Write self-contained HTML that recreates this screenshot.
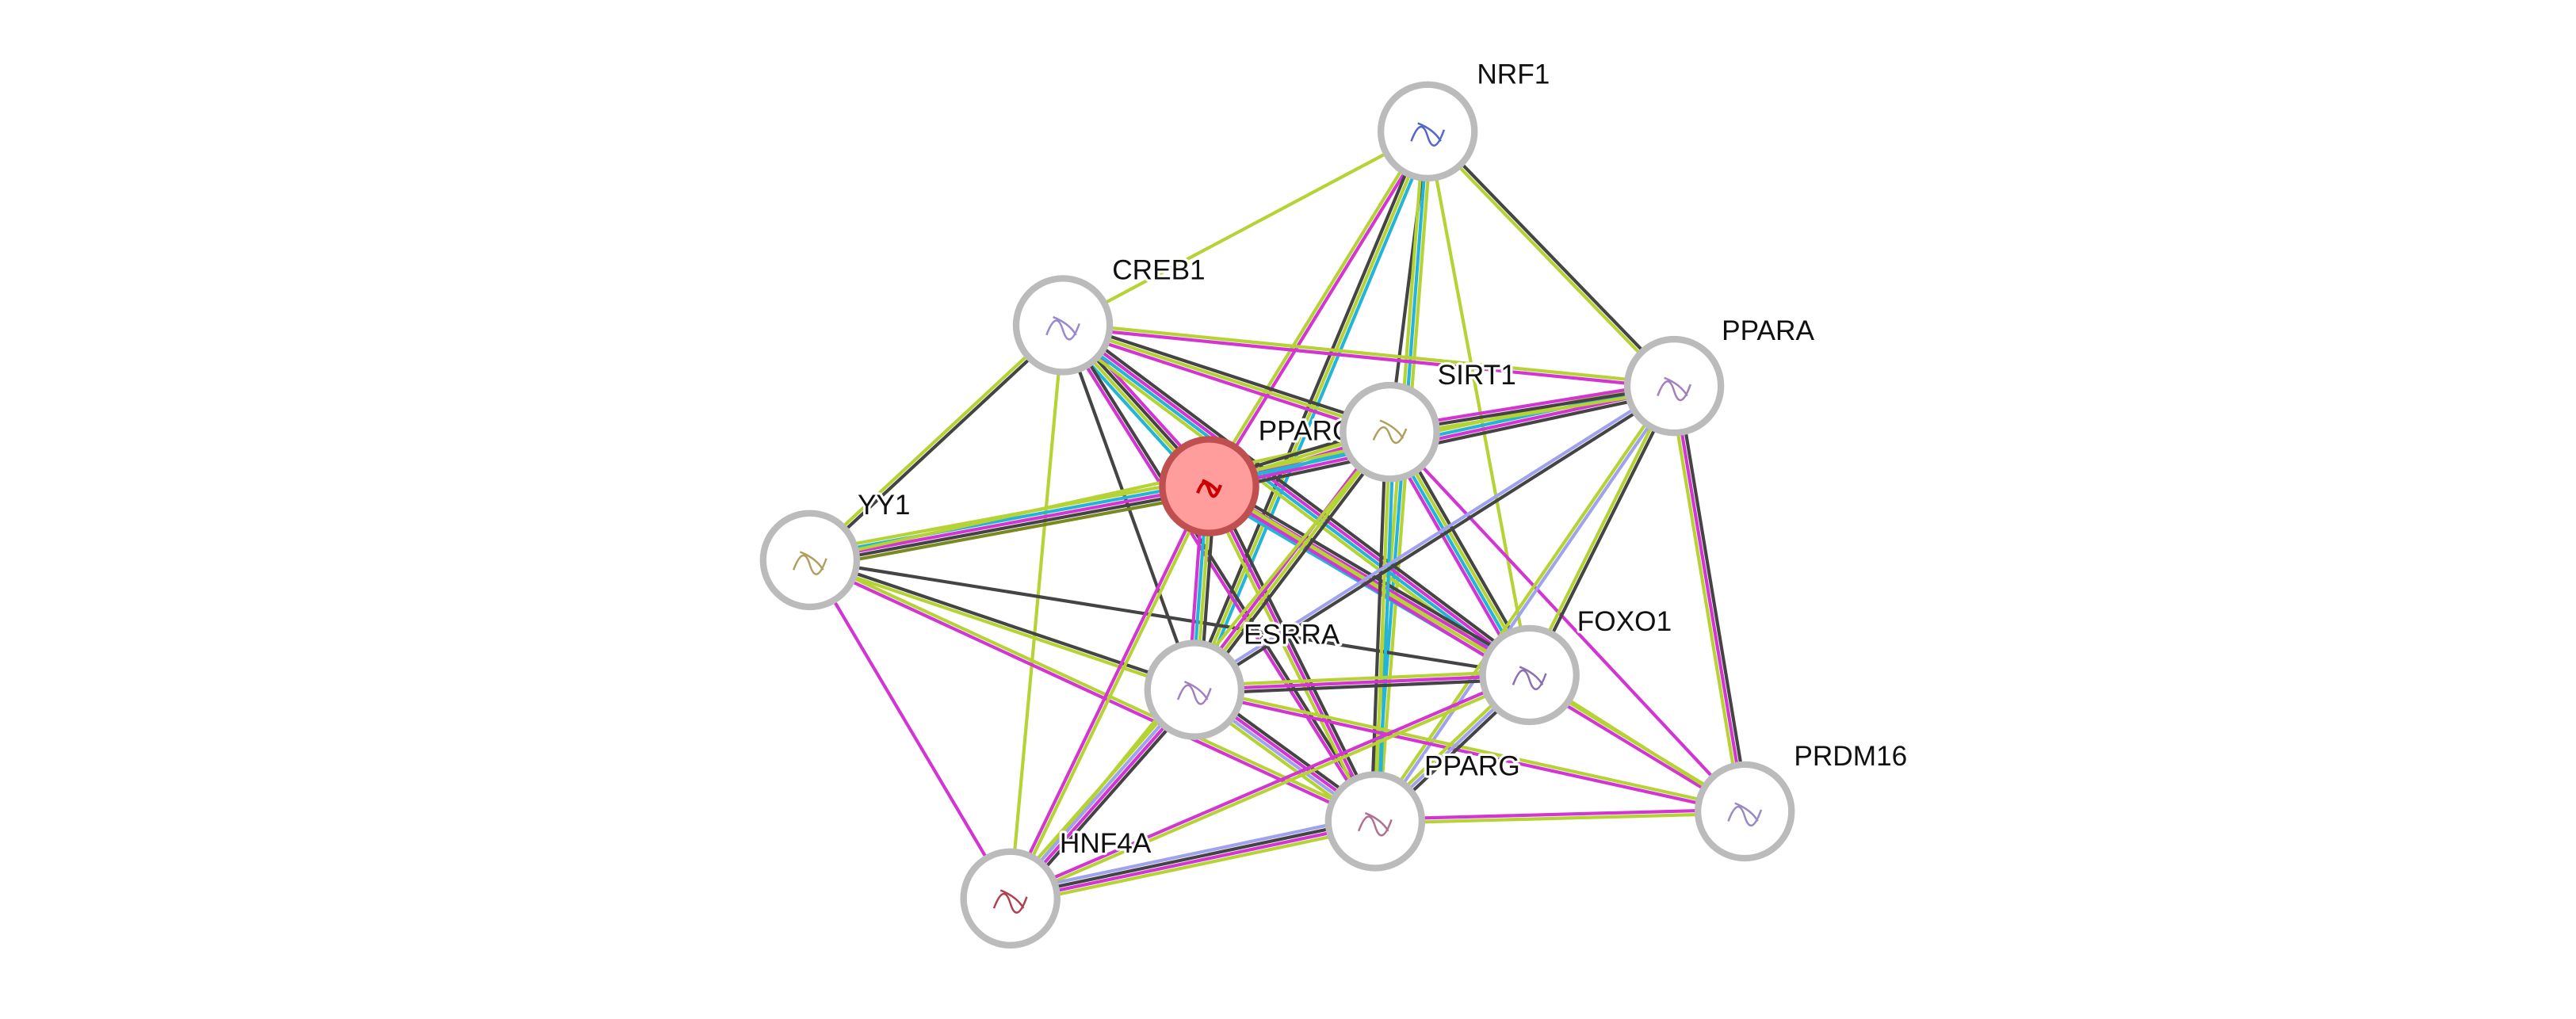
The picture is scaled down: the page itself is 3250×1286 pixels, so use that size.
<!DOCTYPE html>
<html><head><meta charset="utf-8"><style>
html,body{margin:0;padding:0;background:#fff;width:3250px;height:1286px;overflow:hidden}
svg{display:block}
text{font-family:"Liberation Sans",sans-serif;font-size:17px;fill:#111;stroke:#fff;stroke-width:3px;paint-order:stroke;stroke-linejoin:round}
</style></head><body>
<svg id="s" width="3250" height="1286" viewBox="0 0 1568 620.4" preserveAspectRatio="none" xmlns="http://www.w3.org/2000/svg"></svg>
<script>
var N={
NRF1:[869,80,899,45],CREB1:[647,198,677,164],PGC:[736,296,766,262],SIRT1:[846,263,875,228],
PPARA:[1019,235,1048,201],YY1:[493,341,522,307],ESRRA:[727,420,757,386],FOXO1:[931,411,960,378],
PRDM16:[1062,494,1092,460],PPARG:[837,500,867,466],HNF4A:[615,547,645,513]};
var C={y:"#b5d334",m:"#d235d2",k:"#444",c:"#25b4d9",l:"#a0a2ee",o:"#7a8a20"};
var E=[
["NRF1","CREB1","y"],["NRF1","PGC","my"],["NRF1","SIRT1","k"],["NRF1","ESRRA","cyk"],["NRF1","PPARA","ky"],
["NRF1","FOXO1","y"],["NRF1","PPARG","ycy"],
["CREB1","YY1","ky"],["CREB1","PGC","mkyc"],["CREB1","SIRT1","kym"],["CREB1","PPARA","ym"],["CREB1","ESRRA","k"],
["CREB1","FOXO1","kmcy"],["CREB1","PPARG","km"],["CREB1","HNF4A","y"],
["YY1","PGC","ycmko"],["YY1","SIRT1","y"],["YY1","ESRRA","ky"],["YY1","PPARG","ym"],["YY1","HNF4A","m"],["YY1","FOXO1","k"],
["PGC","SIRT1","kymc"],["PGC","PPARA","ycmk"],["PGC","ESRRA","kycm"],["PGC","FOXO1","kmyc"],["PGC","PPARG","kmy"],
["PGC","HNF4A","ym"],["PGC","PRDM16","ym"],
["SIRT1","PPARA","mky"],["SIRT1","ESRRA","kym"],["SIRT1","FOXO1","kycm"],["SIRT1","PPARG","cyk"],["SIRT1","HNF4A","y"],["SIRT1","PRDM16","m"],
["PPARA","ESRRA","kl"],["PPARA","FOXO1","ky"],["PPARA","PPARG","ly"],["PPARA","PRDM16","kmy"],
["ESRRA","FOXO1","ymk"],["ESRRA","PPARG","kmly"],["ESRRA","HNF4A","kmly"],["ESRRA","PRDM16","ym"],
["FOXO1","PPARG","kly"],["FOXO1","HNF4A","ym"],["FOXO1","PRDM16","y"],
["PPARG","HNF4A","ymkl"],["PPARG","PRDM16","my"]];
var s=document.getElementById("s"),h="";
E.forEach(function(e){var a=N[e[0]],b=N[e[1]],dx=b[0]-a[0],dy=b[1]-a[1],L=Math.hypot(dx,dy),px=-dy/L,py=dx/L,n=e[2].length;
for(var i=0;i<n;i++){var o=(i-(n-1)/2)*2.4;
h+='<line x1="'+(a[0]+px*o)+'" y1="'+(a[1]+py*o)+'" x2="'+(b[0]+px*o)+'" y2="'+(b[1]+py*o)+'" stroke="'+C[e[2][i]]+'" stroke-width="2"/>';}});
var order=["NRF1","CREB1","YY1","PGC","SIRT1","PPARA","ESRRA","FOXO1","PRDM16","PPARG","HNF4A"];
var pc={NRF1:"#5566cc",CREB1:"#9a88cc",PGC:"#cc0000",SIRT1:"#b0a060",PPARA:"#a080c0",YY1:"#b0a060",ESRRA:"#a080c0",FOXO1:"#8a70b0",PRDM16:"#9a8ac0",PPARG:"#b07090",HNF4A:"#b04050"};
order.forEach(function(k){var p=N[k],red=k=="PGC";
h+='<circle cx="'+p[0]+'" cy="'+p[1]+'" r="28.5" fill="'+(red?"#ff9d9d":"#fff")+'" stroke="'+(red?"#c05050":"#bbb")+'" stroke-width="4"/>';
var sz=red?7:10;
h+='<path d="M'+(p[0]-sz)+' '+(p[1]+sz*0.6)+' q'+sz*0.6+' '+(-sz*1.6)+' '+sz+' '+(-sz*0.3)+' t'+sz+' '+(-sz*0.4)+' M'+(p[0]-sz*0.6)+' '+(p[1]-sz*0.5)+' q'+sz+' '+sz*0.4+' '+sz*1.4+' '+sz*1.1+'" fill="none" stroke="'+pc[k]+'" stroke-width="'+(red?2:1.2)+'"/>';
h+='<text x="'+p[2]+'" y="'+(p[3]+6)+'">'+(k=="PGC"?"PPARGC1A":k)+'</text>';
});
s.innerHTML=h;
var p=N.SIRT1;
s.innerHTML+='<circle cx="'+p[0]+'" cy="'+p[1]+'" r="28.5" fill="#fff" stroke="#bbb" stroke-width="4"/><path d="M836 268 q6 -14 10 -3 t10 -4 M840 256 q10 4 14 11" fill="none" stroke="#b0a060" stroke-width="1.2"/><text x="875" y="234">SIRT1</text>';
</script>
</body></html>
